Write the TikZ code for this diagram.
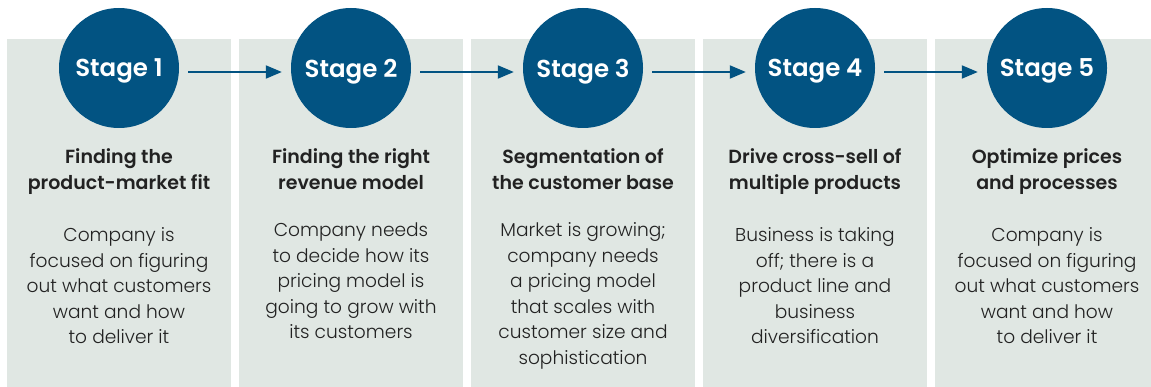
\documentclass[tikz,border=0pt]{standalone}
\usepackage{fontspec}
\setmainfont{Poppins}[UprightFont=* Light, BoldFont=* SemiBold]
\usetikzlibrary{arrows.meta,positioning}
\definecolor{stageblue}{RGB}{2,83,130}
\definecolor{panelgray}{RGB}{224,231,227}
\definecolor{textdark}{RGB}{34,34,34}
\tikzstyle{panel} = [rectangle, fill=panelgray, minimum width=224pt,
    minimum height=348pt, inner sep=0pt, anchor=north]
\tikzstyle{stage} = [circle, fill=stageblue, text=white, minimum size=120pt,
    inner sep=0pt, text depth=0pt, font=\bfseries\fontsize{24.5}{28}\selectfont]
\tikzstyle{head} = [text=textdark, align=center, inner sep=0pt,
    font=\bfseries\fontsize{19}{26}\selectfont]
\tikzstyle{body} = [text=textdark, align=center, inner sep=0pt,
    font=\fontsize{18.6}{25.5}\selectfont]
\tikzstyle{flow} = [->, stageblue, line width=2pt, shorten >=9pt, shorten <=9pt]

\begin{document}
\begin{tikzpicture}[x=1pt,y=-1pt,>={Triangle[length=16pt,width=13pt]}]

  \useasboundingbox (0,0) rectangle (1151,387);
  \clip (0,0) rectangle (1151,387);

  % panels
  \node[panel] (p1) at (119,39)  {};
  \node[panel] (p2) at (351,39)  {};
  \node[panel] (p3) at (583,39)  {};
  \node[panel] (p4) at (815,39)  {};
  \node[panel] (p5) at (1047,39) {};

  % stages
  \node[stage] (s1) at (119,68)  {Stage 1};
  \node[stage] (s2) at (351,68)  {Stage 2};
  \node[stage] (s3) at (583,68)  {Stage 3};
  \node[stage] (s4) at (815,68)  {Stage 4};
  \node[stage] (s5) at (1047,68) {Stage 5};

  % headings
  \node[head] (h1) [below=20pt of s1] {Finding the\\product-market fit};
  \node[head] (h2) [below=20pt of s2] {Finding the right\\revenue model};
  \node[head] (h3) [below=20pt of s3] {Segmentation of\\the customer base};
  \node[head] (h4) [below=20pt of s4] {Drive cross-sell of\\multiple products};
  \node[head] (h5) [below=20pt of s5] {Optimize prices\\and processes};

  % descriptions
  \node[body] (b1) [below=33pt of h1.south, anchor=north]
    {Company is\\focused on figuring\\out what customers\\want and how\\to deliver it};
  \node[body] (b2) [below=33pt of h2.south, anchor=north]
    {Company needs\\to decide how its\\pricing model is\\going to grow with\\its customers};
  \node[body] (b3) [below=33pt of h3.south, anchor=north]
    {Market is growing;\\company needs\\a pricing model\\that scales with\\customer size and\\sophistication};
  \node[body] (b4) [below=33pt of h4.south, anchor=north]
    {Business is taking\\off; there is a\\product line and\\business\\diversification};
  \node[body] (b5) [below=33pt of h5.south, anchor=north]
    {Company is\\focused on figuring\\out what customers\\want and how\\to deliver it};

  \draw[flow] ([yshift=-4pt]s1.east) -- ([yshift=-4pt]s2.west);
  \draw[flow] ([yshift=-4pt]s2.east) -- ([yshift=-4pt]s3.west);
  \draw[flow] ([yshift=-4pt]s3.east) -- ([yshift=-4pt]s4.west);
  \draw[flow] ([yshift=-4pt]s4.east) -- ([yshift=-4pt]s5.west);

\end{tikzpicture}
\end{document}
